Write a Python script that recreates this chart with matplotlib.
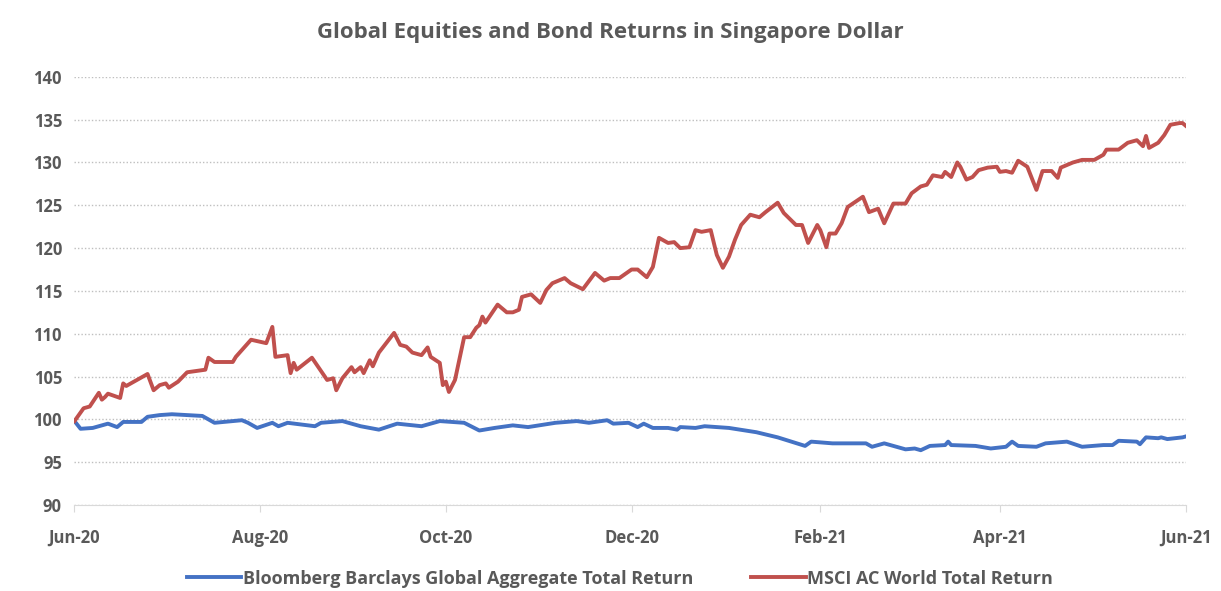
import pandas as pd
import matplotlib.pyplot as plt
import matplotlib.dates as mdates

# MSCI AC World Total Return (SGD)
msci_dates = [
    '2020-06-01', '2020-06-04', '2020-06-06', '2020-06-09', '2020-06-10', '2020-06-11',
    '2020-06-12', '2020-06-16', '2020-06-17', '2020-06-18', '2020-06-25', '2020-06-27',
    '2020-06-29', '2020-07-01', '2020-07-02', '2020-07-05', '2020-07-08', '2020-07-14',
    '2020-07-15', '2020-07-17', '2020-07-23', '2020-07-24', '2020-07-29', '2020-08-03',
    '2020-08-05', '2020-08-06', '2020-08-10', '2020-08-11', '2020-08-12', '2020-08-13',
    '2020-08-18', '2020-08-23', '2020-08-25', '2020-08-26', '2020-08-28', '2020-08-31',
    '2020-09-01', '2020-09-03', '2020-09-04', '2020-09-06', '2020-09-07', '2020-09-09',
    '2020-09-14', '2020-09-16', '2020-09-18', '2020-09-20', '2020-09-23', '2020-09-25',
    '2020-09-26', '2020-09-29', '2020-09-30', '2020-10-01', '2020-10-02', '2020-10-04',
    '2020-10-07', '2020-10-09', '2020-10-11', '2020-10-12', '2020-10-13', '2020-10-14',
    '2020-10-18', '2020-10-21', '2020-10-23', '2020-10-25', '2020-10-26', '2020-10-29',
    '2020-11-01', '2020-11-03', '2020-11-05', '2020-11-09', '2020-11-11', '2020-11-15',
    '2020-11-19', '2020-11-22', '2020-11-24', '2020-11-27', '2020-12-01', '2020-12-03',
    '2020-12-06', '2020-12-08', '2020-12-10', '2020-12-13', '2020-12-15', '2020-12-17',
    '2020-12-20', '2020-12-22', '2020-12-24', '2020-12-27', '2020-12-29', '2020-12-31',
    '2021-01-02', '2021-01-04', '2021-01-06', '2021-01-09', '2021-01-12', '2021-01-14',
    '2021-01-18', '2021-01-20', '2021-01-24', '2021-01-26', '2021-01-28', '2021-01-31',
    '2021-02-01', '2021-02-03', '2021-02-04', '2021-02-06', '2021-02-08', '2021-02-10',
    '2021-02-15', '2021-02-17', '2021-02-20', '2021-02-22', '2021-02-25', '2021-03-01',
    '2021-03-03', '2021-03-06', '2021-03-08', '2021-03-10', '2021-03-13', '2021-03-14',
    '2021-03-16', '2021-03-18', '2021-03-19', '2021-03-21', '2021-03-23', '2021-03-25',
    '2021-03-28', '2021-03-31', '2021-04-01', '2021-04-03', '2021-04-05', '2021-04-07',
    '2021-04-10', '2021-04-13', '2021-04-15', '2021-04-18', '2021-04-20', '2021-04-21',
    '2021-04-25', '2021-04-28', '2021-05-02', '2021-05-05', '2021-05-06', '2021-05-10',
    '2021-05-13', '2021-05-16', '2021-05-18', '2021-05-19', '2021-05-20', '2021-05-23',
    '2021-05-25', '2021-05-27', '2021-05-30', '2021-05-31', '2021-06-01',
]
msci_vals = [
    99.8, 101.3, 101.5, 103.1, 102.3, 102.6,
    103.0, 102.5, 104.2, 103.9, 105.3, 103.4,
    104.0, 104.2, 103.7, 104.4, 105.5, 105.8,
    107.2, 106.7, 106.7, 107.3, 109.3, 108.9,
    110.8, 107.3, 107.5, 105.4, 106.6, 105.8,
    107.2, 104.6, 104.8, 103.4, 104.8, 106.1,
    105.5, 106.1, 105.4, 106.9, 106.2, 107.8,
    110.1, 108.7, 108.5, 107.8, 107.5, 108.4,
    107.3, 106.6, 104.0, 104.4, 103.2, 104.6,
    109.6, 109.6, 110.7, 111.0, 112.0, 111.3,
    113.4, 112.5, 112.5, 112.8, 114.3, 114.6,
    113.6, 115.1, 115.9, 116.5, 115.9, 115.2,
    117.1, 116.2, 116.5, 116.5, 117.5, 117.5,
    116.6, 117.8, 121.2, 120.6, 120.7, 120.0,
    120.1, 122.1, 121.9, 122.1, 119.2, 117.7,
    119.0, 121.0, 122.7, 123.9, 123.6, 124.2,
    125.3, 124.1, 122.7, 122.7, 120.6, 122.7,
    122.1, 120.1, 121.7, 121.7, 122.9, 124.8,
    126.0, 124.2, 124.6, 122.9, 125.2, 125.2,
    126.4, 127.2, 127.4, 128.5, 128.3, 128.9,
    128.3, 130.0, 129.5, 128.0, 128.3, 129.1,
    129.4, 129.5, 128.9, 129.0, 128.8, 130.2,
    129.5, 126.8, 129.0, 129.0, 128.2, 129.4,
    130.0, 130.3, 130.3, 130.9, 131.5, 131.5,
    132.3, 132.6, 131.9, 133.1, 131.7, 132.3,
    133.2, 134.4, 134.6, 134.6, 134.3,
]

# Bloomberg Barclays Global Aggregate Total Return (SGD)
bond_dates = [
    '2020-06-01', '2020-06-03', '2020-06-07', '2020-06-12', '2020-06-15', '2020-06-17',
    '2020-06-23', '2020-06-25', '2020-06-29', '2020-07-03', '2020-07-13', '2020-07-17',
    '2020-07-26', '2020-07-28', '2020-07-31', '2020-08-05', '2020-08-07', '2020-08-10',
    '2020-08-19', '2020-08-21', '2020-08-28', '2020-09-03', '2020-09-09', '2020-09-15',
    '2020-09-23', '2020-09-29', '2020-10-07', '2020-10-12', '2020-10-17', '2020-10-23',
    '2020-10-28', '2020-11-06', '2020-11-13', '2020-11-17', '2020-11-23', '2020-11-25',
    '2020-11-30', '2020-12-03', '2020-12-05', '2020-12-08', '2020-12-13', '2020-12-16',
    '2020-12-17', '2020-12-22', '2020-12-25', '2021-01-02', '2021-01-11', '2021-01-18',
    '2021-01-27', '2021-01-29', '2021-02-05', '2021-02-10', '2021-02-16', '2021-02-18',
    '2021-02-22', '2021-03-01', '2021-03-04', '2021-03-06', '2021-03-09', '2021-03-14',
    '2021-03-15', '2021-03-16', '2021-03-24', '2021-03-29', '2021-04-03', '2021-04-05',
    '2021-04-07', '2021-04-13', '2021-04-16', '2021-04-23', '2021-04-28', '2021-05-05',
    '2021-05-08', '2021-05-10', '2021-05-16', '2021-05-17', '2021-05-19', '2021-05-23',
    '2021-05-24', '2021-05-26', '2021-05-31', '2021-06-01',
]
bond_vals = [
    99.8, 98.9, 99.0, 99.5, 99.1, 99.7,
    99.7, 100.3, 100.5, 100.6, 100.4, 99.6,
    99.9, 99.6, 99.0, 99.6, 99.2, 99.6,
    99.2, 99.6, 99.8, 99.2, 98.8, 99.5,
    99.2, 99.8, 99.6, 98.7, 99.0, 99.3,
    99.1, 99.6, 99.8, 99.6, 99.9, 99.5,
    99.6, 99.1, 99.5, 99.0, 99.0, 98.8,
    99.1, 99.0, 99.2, 99.0, 98.5, 97.9,
    96.9, 97.4, 97.2, 97.2, 97.2, 96.8,
    97.2, 96.5, 96.6, 96.4, 96.9, 97.0,
    97.4, 97.0, 96.9, 96.6, 96.8, 97.4,
    96.9, 96.8, 97.2, 97.4, 96.8, 97.0,
    97.0, 97.5, 97.4, 97.1, 97.9, 97.8,
    97.9, 97.7, 97.9, 98.0,
]

msci = pd.Series(msci_vals, index=pd.to_datetime(msci_dates))
bond = pd.Series(bond_vals, index=pd.to_datetime(bond_dates))

text_col = '#595959'
plt.rcParams['font.family'] = ['Open Sans', 'DejaVu Sans']

fig, ax = plt.subplots(figsize=(12.21, 5.91), dpi=100)
fig.subplots_adjust(left=0.061, right=0.971, top=0.870, bottom=0.1455)

ax.plot(bond.index, bond.values, color='#4472C4', lw=2.8,
        label='Bloomberg Barclays Global Aggregate Total Return')
ax.plot(msci.index, msci.values, color='#C0504D', lw=2.8,
        label='MSCI AC World Total Return')

ax.set_ylim(90, 140)
ax.set_yticks(range(90, 141, 5))
ax.set_xlim(pd.Timestamp('2020-06-01'), pd.Timestamp('2021-06-01'))
ax.xaxis.set_major_locator(mdates.MonthLocator(bymonth=[2, 4, 6, 8, 10, 12]))
ax.xaxis.set_major_formatter(mdates.DateFormatter('%b-%y'))

ax.grid(axis='y', color='#bfbfbf', linestyle=(0, (1, 1.5)), lw=1.0)
ax.set_axisbelow(True)
for s in ['top', 'right', 'left']:
    ax.spines[s].set_visible(False)
ax.spines['bottom'].set_color('#d9d9d9')
ax.tick_params(axis='y', length=0, pad=9, labelsize=12, labelcolor=text_col)
ax.tick_params(axis='x', length=5, color='#d9d9d9', pad=12, labelsize=12,
               labelcolor=text_col)
for lab in ax.get_xticklabels() + ax.get_yticklabels():
    lab.set_fontweight('bold')

fig.suptitle('Global Equities and Bond Returns in Singapore Dollar', y=0.962,
             fontsize=16, fontweight='bold', color=text_col)

leg = fig.legend(loc='lower center', bbox_to_anchor=(0.508, -0.022), ncol=2,
                 frameon=False, handlelength=3.0, handletextpad=0.1,
                 columnspacing=3.2, prop={'size': 13, 'weight': 'bold'})
for t in leg.get_texts():
    t.set_color(text_col)

fig.savefig('out.png', dpi=100)
